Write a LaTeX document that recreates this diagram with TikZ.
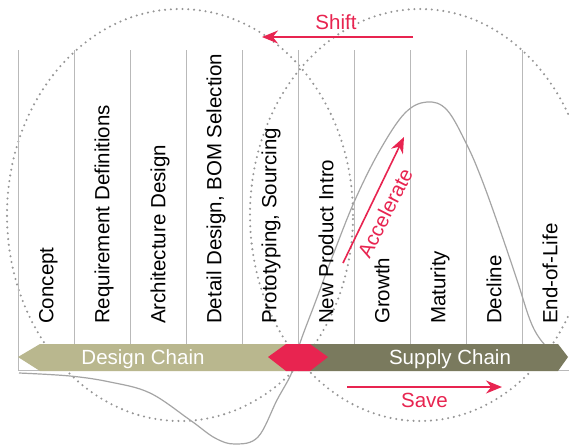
\documentclass[tikz,border=0pt]{standalone}
\usepackage{fontspec}
\setmainfont{Liberation Sans}
\usetikzlibrary{arrows.meta}
\definecolor{redc}{RGB}{232,36,80}
\definecolor{tanc}{RGB}{185,183,142}
\definecolor{olivec}{RGB}{122,122,94}
\definecolor{grayl}{RGB}{185,185,185}
\definecolor{curvec}{RGB}{165,165,165}
\definecolor{dotc}{RGB}{150,150,150}
\begin{document}
\begin{tikzpicture}[x=1pt,y=-1pt,
  lab/.style={font=\fontsize{20.5}{24}\selectfont, inner sep=0pt},
  collab/.style={lab, rotate=90, anchor=base west},
  colline/.style={draw=grayl, line width=1pt},
  dots/.style={draw=dotc, line width=2.3pt, line cap=round, dash pattern=on 0pt off 5.8pt},
  redarrow/.style={draw=redc, line width=1.6pt, -{Stealth[length=16pt,width=13pt]}},
  redtext/.style={lab, text=redc},
  bandtext/.style={lab, text=white, anchor=base},
]
\useasboundingbox (0,0) rectangle (569,445);
\fill[white] (0,0) rectangle (569,445);
\begin{scope}
\clip (0,0) rectangle (569,445);
% dotted ellipses
\draw[dots] (180,215) ellipse [x radius=173pt, y radius=206pt];
\draw[dots] (420,215) ellipse [x radius=170pt, y radius=206pt];
% frame and column lines
\draw[colline] (18,50) -- (18,370) -- (569,370);
\foreach \xx in {74,130,186,242,298,354,410,466,522}
  \draw[colline] (\xx,50) -- (\xx,344);
% life cycle curve
\draw[curvec, line width=1.2pt] plot[smooth, tension=0.6] coordinates {
 (19,373) (70,376) (110,382) (150,393) (190,420) (215,438) (235,444)
 (258,437) (277,400) (292,372) (300,343) (315,303) (333,255) (355,200)
 (380,150) (405,113) (427,102) (447,110) (467,145) (482,180) (500,230)
 (517,280) (530,320) (540,339) (552,352)};
% bands
\fill[tanc] (18,357) -- (40,344) -- (298,344) -- (298,371) -- (40,371) -- cycle;
\fill[olivec] (298,344) -- (558,344) -- (568,357) -- (558,371) -- (298,371) -- cycle;
\fill[redc] (268,357) -- (286,344) -- (310,344) -- (328,357) -- (310,371) -- (286,371) -- cycle;
\end{scope}
% column labels
\node[collab] (c1) at (53.3,324) {Concept};
\node[collab] (c2) at (109.3,324) {Requirement Definitions};
\node[collab] (c3) at (165.3,324) {Architecture Design};
\node[collab] (c4) at (221.3,324) {Detail Design, BOM Selection};
\node[collab] (c5) at (276.3,324) {Prototyping, Sourcing};
\node[collab] (c6) at (333.3,324) {New Product Intro};
\node[collab] (c7) at (389.3,324) {Growth};
\node[collab] (c8) at (445.3,324) {Maturity};
\node[collab] (c9) at (501.3,324) {Decline};
\node[collab] (c10) at (557.3,324) {End-of-Life};
% band texts
\node[bandtext] (dc) at (143,364.3) {Design Chain};
\node[bandtext] (sc) at (450,364.3) {Supply Chain};
% red arrows and labels
\coordinate (shA) at (413,37);
\coordinate (shB) at (262,37);
\draw[redarrow] (shA) -- (shB);
\node[redtext, anchor=base] (shift) at (336,29) {Shift};
\coordinate (svA) at (347,387);
\coordinate (svB) at (502,387);
\draw[redarrow] (svA) -- (svB);
\node[redtext, anchor=base] (save) at (424.5,407) {Save};
\coordinate (acA) at (343,263);
\coordinate (acB) at (404,137);
\draw[redarrow] (acA) -- (acB);
\node[redtext, rotate=63] (acc) at (385,213) {Accelerate};
\end{tikzpicture}
\end{document}
